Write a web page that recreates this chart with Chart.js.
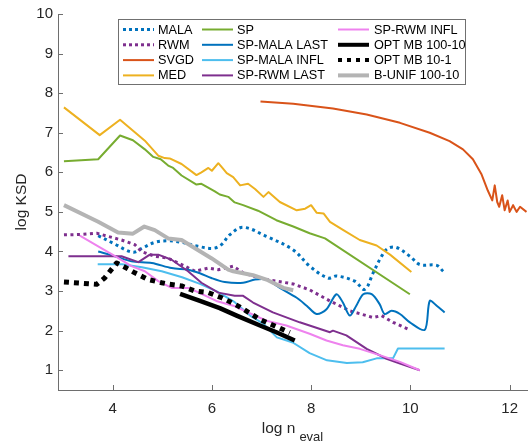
<!DOCTYPE html>
<html>
<head>
<meta charset="utf-8">
<script src="https://cdn.jsdelivr.net/npm/chart.js@4.4.0/dist/chart.umd.min.js"></script>
<style>
html,body{margin:0;padding:0;background:#fff;}
#c{display:block;}
</style>
</head>
<body>
<canvas id="c" width="529" height="442"></canvas>
<script>
const X_TICKS = [4, 6, 8, 10, 12];
const Y_TICKS = [1, 2, 3, 4, 5, 6, 7, 8, 9, 10];

const MALA_X = [3.71,4.01,4.41,4.62,4.85,5.09,5.39,5.72,6.03,6.20,6.36,6.63,7.10,7.64,7.97,8.34,8.51,8.88,9.08,9.25,9.42,9.55,9.72,9.99,10.19,10.53,10.66];
const MALA_Y = [4.40,4.21,3.98,4.10,4.23,4.27,4.23,4.13,4.08,4.18,4.42,4.61,4.38,4.04,3.63,3.33,3.38,3.25,3.04,3.46,3.88,4.08,4.10,3.88,3.67,3.65,3.50];

const RWM_X = [3.02,3.38,3.68,3.91,4.18,4.45,4.58,4.85,5.12,5.39,5.66,5.93,6.13,6.43,6.63,6.97,7.10,7.64,7.97,8.38,8.78,9.25,9.42,9.65,9.99];
const RWM_Y = [4.42,4.43,4.46,4.38,4.29,4.17,4.00,3.88,3.83,3.67,3.50,3.58,3.54,3.63,3.46,3.33,3.29,3.18,3.03,2.75,2.50,2.33,2.38,2.21,2.02];

const SVGD_X = [6.98,7.64,8.44,9.12,9.79,10.39,10.79,11.06,11.26,11.43,11.56,11.65,11.70,11.75,11.79,11.85,11.90,11.96,12.00,12.07,12.14,12.21,12.34];
const SVGD_Y = [7.79,7.73,7.61,7.46,7.25,7.00,6.79,6.58,6.33,5.96,5.54,5.29,5.67,5.25,5.13,5.42,5.04,5.29,5.00,5.17,5.00,5.13,5.00];

const MED_X = [3.02,3.74,4.15,4.65,4.92,5.05,5.15,5.39,5.69,5.79,5.93,6.00,6.13,6.20,6.30,6.43,6.57,6.73,6.87,7.04,7.14,7.37,7.71,7.88,8.00,8.11,8.25,8.38,8.65,8.98,9.32,9.59,10.02];
const MED_Y = [7.64,6.94,7.33,6.80,6.42,6.36,6.35,6.21,5.93,6.00,6.11,6.04,6.23,6.13,5.98,5.88,5.67,5.71,5.58,5.38,5.50,5.25,5.04,5.08,5.17,4.98,4.96,4.75,4.54,4.29,4.15,3.92,3.48];

const SP_X = [3.02,3.71,4.15,4.41,4.65,4.82,4.97,5.12,5.22,5.39,5.69,5.79,5.89,6.06,6.16,6.33,6.46,6.63,6.93,7.30,7.64,7.97,8.28,9.99];
const SP_Y = [6.28,6.33,6.93,6.81,6.58,6.39,6.33,6.17,6.11,5.92,5.69,5.71,5.64,5.52,5.44,5.38,5.24,5.17,5.03,4.79,4.63,4.46,4.33,2.92];

const SPML_X = [3.71,4.05,4.38,4.79,5.19,5.52,5.76,5.99,6.26,6.63,6.87,7.10,7.37,7.71,7.91,8.11,8.31,8.51,8.64,8.78,8.91,9.05,9.22,9.38,9.48,9.62,9.79,9.99,10.29,10.39,10.53,10.69];
const SPML_Y = [4.00,3.88,3.75,3.71,3.58,3.54,3.45,3.33,3.23,3.21,3.29,3.29,3.08,2.83,2.63,2.42,2.54,2.92,2.71,2.38,2.63,2.92,2.92,2.67,2.42,2.50,2.42,2.21,2.02,2.75,2.63,2.46];

const SPMI_X = [3.70,4.19,4.59,4.99,5.40,5.76,6.12,6.46,6.77,7.03,7.31,7.63,7.97,8.32,8.72,9.04,9.32,9.65,9.75,9.99,10.69];
const SPMI_Y = [3.68,3.68,3.60,3.50,3.35,3.18,2.98,2.72,2.38,2.18,1.83,1.70,1.43,1.25,1.18,1.20,1.30,1.30,1.55,1.55,1.55];

const SPRL_X = [3.11,4.18,4.52,4.75,4.92,5.19,5.52,5.79,6.13,6.46,6.63,6.83,7.23,7.77,8.38,8.44,8.71,9.12,9.52,9.79,10.19];
const SPRL_Y = [3.88,3.88,3.73,3.92,3.92,3.79,3.50,3.21,2.96,2.88,2.88,2.71,2.46,2.21,1.96,2.00,1.88,1.54,1.29,1.17,1.00];

const SPRI_X = [3.34,3.71,4.05,4.38,4.65,4.92,5.19,5.52,5.76,6.09,6.43,7.10,7.50,7.97,8.31,8.64,8.98,9.38,9.79,10.19];
const SPRI_Y = [4.40,4.13,3.88,3.63,3.50,3.25,3.08,3.08,2.95,2.75,2.63,2.25,2.13,1.92,1.75,1.63,1.54,1.38,1.21,1.00];

const OPT1_X = [5.36,5.76,6.16,6.50,6.97,7.30,7.67];
const OPT1_Y = [2.93,2.75,2.57,2.38,2.13,1.96,1.75];

const OPT2_X = [3.02,3.68,3.84,4.08,4.28,4.45,4.72,4.99,5.15,5.39,5.66,5.93,6.20,6.46,6.56,6.97,7.57];
const OPT2_Y = [3.23,3.17,3.33,3.71,3.58,3.46,3.29,3.21,3.17,3.13,3.00,2.96,2.83,2.67,2.60,2.28,1.95];

const BU_X = [3.02,3.71,4.11,4.41,4.64,4.85,5.12,5.39,5.66,5.99,6.33,6.43,6.83,7.10,7.44,7.64];
const BU_Y = [5.17,4.75,4.48,4.45,4.63,4.54,4.33,4.29,4.08,3.83,3.54,3.50,3.40,3.29,3.08,3.02];

const LABELS = ['MALA','RWM','SVGD','MED','SP','SP-MALA LAST','SP-MALA INFL','SP-RWM LAST','SP-RWM INFL','OPT MB 100-10','OPT MB 10-1','B-UNIF 100-10'];

function pts(xs, ys){ return xs.map((v,i)=>({x:v, y:ys[i]})); }

const STYLES = [
  {c:'#0072BD', w:3, d:[3,3.5], t:0.35},
  {c:'#7E2F8E', w:3, d:[3,3.5], t:0},
  {c:'#D95319', w:2, d:[], t:0},
  {c:'#EDB120', w:2, d:[], t:0},
  {c:'#77AC30', w:2, d:[], t:0},
  {c:'#0072BD', w:2, d:[], t:0.3},
  {c:'#4DBEEE', w:2, d:[], t:0},
  {c:'#7E2F8E', w:2, d:[], t:0},
  {c:'#EE82EE', w:2, d:[], t:0},
  {c:'#000000', w:4.5, d:[], t:0},
  {c:'#000000', w:5, d:[5,5], t:0},
  {c:'#B4B4B4', w:4, d:[], t:0}
];
const SERIES = [
  pts(MALA_X,MALA_Y), pts(RWM_X,RWM_Y), pts(SVGD_X,SVGD_Y), pts(MED_X,MED_Y),
  pts(SP_X,SP_Y), pts(SPML_X,SPML_Y), pts(SPMI_X,SPMI_Y), pts(SPRL_X,SPRL_Y),
  pts(SPRI_X,SPRI_Y), pts(OPT1_X,OPT1_Y), pts(OPT2_X,OPT2_Y), pts(BU_X,BU_Y)
];

const datasets = SERIES.map((d,i)=>({
  label: LABELS[i],
  data: d,
  borderColor: STYLES[i].c,
  backgroundColor: STYLES[i].c,
  borderWidth: STYLES[i].w,
  borderDash: STYLES[i].d,
  borderCapStyle: 'butt',
  borderJoinStyle: 'round',
  tension: STYLES[i].t,
  pointRadius: 0,
  fill: false,
  order: 20 - i
}));

const FONT = '"Liberation Sans", Arial, Helvetica, sans-serif';

const custom = {
  id: 'custom',
  afterDatasetsDraw(chart){
    const {ctx, chartArea:a, scales:{x, y}} = chart;
    ctx.save();
    // inward ticks
    ctx.strokeStyle = '#6e6e6e';
    ctx.lineWidth = 1;
    ctx.setLineDash([]);
    X_TICKS.forEach(v=>{
      const px = Math.round(x.getPixelForValue(v)) + 0.5;
      ctx.beginPath(); ctx.moveTo(px, a.bottom); ctx.lineTo(px, a.bottom - 5); ctx.stroke();
    });
    Y_TICKS.forEach(v=>{
      const py = Math.round(y.getPixelForValue(v)) + 0.5;
      ctx.beginPath(); ctx.moveTo(a.left, py); ctx.lineTo(a.left + 5, py); ctx.stroke();
    });
    // legend box
    const bx = 118.5, by = 19.5, bw = 347, bh = 65;
    ctx.fillStyle = '#ffffff';
    ctx.fillRect(bx, by, bw, bh);
    ctx.strokeStyle = '#707070';
    ctx.lineWidth = 1;
    ctx.strokeRect(bx, by, bw, bh);
    const cols = [{lx:123, tx:158}, {lx:202, tx:237}, {lx:338, tx:374}];
    ctx.font = '12.7px ' + FONT;
    ctx.textBaseline = 'middle';
    ctx.textAlign = 'left';
    LABELS.forEach((lab,i)=>{
      const col = Math.floor(i/4), row = i%4;
      const ry = 29.5 + row*15.3;
      const c = cols[col];
      const s = STYLES[i];
      ctx.strokeStyle = s.c;
      ctx.lineWidth = Math.min(s.w, 4);
      ctx.setLineDash(s.d.length ? (s.w>=5 ? [4,5] : [3,3]) : []);
      ctx.lineCap = 'butt';
      ctx.beginPath(); ctx.moveTo(c.lx, ry); ctx.lineTo(c.lx + 31, ry); ctx.stroke();
      ctx.setLineDash([]);
      ctx.fillStyle = '#000';
      ctx.fillText(lab, c.tx, ry + 0.5);
    });
    // y title
    ctx.fillStyle = '#262626';
    ctx.font = '15.5px ' + FONT;
    ctx.save();
    ctx.translate(26, (a.top + a.bottom)/2);
    ctx.rotate(-Math.PI/2);
    ctx.textAlign = 'center';
    ctx.textBaseline = 'alphabetic';
    ctx.fillText('log KSD', 0, 0);
    ctx.restore();
    // x title with subscript
    const main = 'log n', sub = 'eval';
    ctx.font = '15.5px ' + FONT;
    const w1 = ctx.measureText(main).width;
    ctx.font = '13px ' + FONT;
    const w2 = ctx.measureText(sub).width;
    const total = w1 + 4 + w2;
    const cx = (a.left + a.right)/2;
    const sx = cx - total/2;
    ctx.textAlign = 'left';
    ctx.textBaseline = 'alphabetic';
    ctx.font = '15.5px ' + FONT;
    ctx.fillText(main, sx, 433);
    ctx.font = '13px ' + FONT;
    ctx.fillText(sub, sx + w1 + 4, 441);
    ctx.restore();
  }
};

new Chart(document.getElementById('c'), {
  type: 'line',
  data: { datasets },
  options: {
    responsive: false,
    animation: false,
    devicePixelRatio: 1,
    layout: { padding: { top: 10, right: 2, left: 0, bottom: 0 } },
    plugins: { legend: { display: false }, tooltip: { enabled: false } },
    scales: {
      x: {
        type: 'linear', min: 2.9, max: 12.35,
        afterBuildTicks: s => { s.ticks = X_TICKS.map(v=>({value:v})); },
        afterFit: s => { s.height = 52; },
        grid: { display: false, drawTicks: false },
        border: { display: true, color: '#6e6e6e', width: 1 },
        ticks: { color: '#262626', font: { family: FONT, size: 15 }, padding: 10, maxRotation: 0 }
      },
      y: {
        type: 'linear', min: 0.5, max: 10,
        afterBuildTicks: s => { s.ticks = Y_TICKS.map(v=>({value:v})); },
        afterFit: s => { s.width = 58; },
        grid: { display: false, drawTicks: false },
        border: { display: true, color: '#6e6e6e', width: 1 },
        ticks: { color: '#262626', font: { family: FONT, size: 15 }, padding: 5 }
      }
    }
  },
  plugins: [custom]
});
</script>
</body>
</html>
